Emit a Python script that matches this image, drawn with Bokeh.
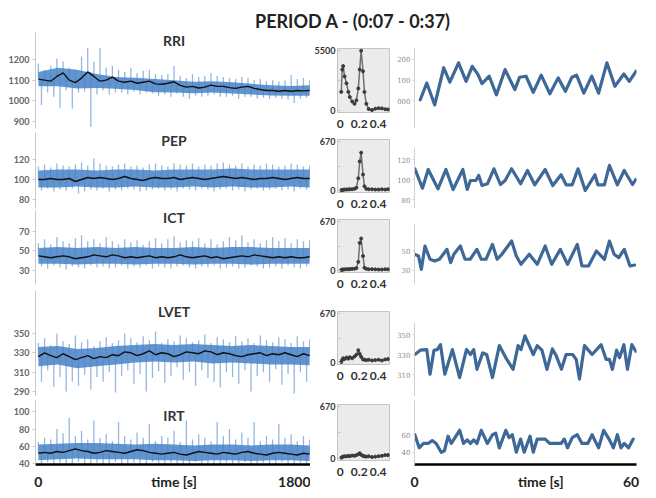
import numpy as np
from bokeh.plotting import figure
from bokeh.layouts import column, row
from bokeh.models import Div, Label, FixedTicker
from bokeh.embed import file_html
from bokeh.resources import INLINE

FONT = "Lato"

# ---------------- data ----------------
# left panels: 45 time bins over the recording (s)
rri_mean = [1105, 1100, 1095, 1118, 1135, 1100, 1088, 1110, 1140, 1118, 1095, 1100, 1115, 1095, 1090,
            1095, 1085, 1090, 1095, 1082, 1080, 1085, 1092, 1075, 1066, 1070, 1062, 1066, 1076, 1070,
            1070, 1064, 1060, 1066, 1070, 1060, 1055, 1050, 1050, 1046, 1050, 1046, 1050, 1048, 1050]
rri_hi = [1180, 1150, 1170, 1205, 1190, 1160, 1150, 1215, 1255, 1190, 1255, 1160, 1170, 1150, 1140,
          1160, 1135, 1145, 1150, 1130, 1125, 1130, 1170, 1120, 1110, 1130, 1115, 1120, 1135, 1120,
          1115, 1110, 1105, 1115, 1110, 1100, 1105, 1095, 1100, 1095, 1100, 1125, 1105, 1110, 1100]
rri_lo = [980, 1040, 1020, 966, 1050, 962, 1040, 1045, 875, 1030, 1050, 1030, 1040, 1040, 1030,
          1045, 1030, 1040, 1035, 1025, 1030, 1020, 1035, 1020, 1010, 1025, 1020, 1025, 1030, 1020,
          1020, 1025, 1010, 1020, 1020, 1010, 1015, 1010, 1015, 1010, 1005, 990, 1010, 1015, 1010]
rri_core_hi = [1140, 1160, 1150, 1130, 1115, 1112, 1105, 1100, 1092, 1095, 1090, 1082, 1075, 1072, 1075]
rri_core_lo = [1070, 1070, 1060, 1062, 1058, 1052, 1042, 1040, 1036, 1040, 1035, 1030, 1026, 1025, 1025]

pep_mean = [100, 100, 101, 100, 100, 101, 98, 100, 102, 101, 102, 101, 100, 101, 103,
            101, 100, 99, 101, 102, 101, 101, 102, 100, 101, 102, 101, 100, 101, 102,
            103, 102, 101, 102, 101, 100, 101, 101, 102, 101, 100, 101, 102, 101, 101]
pep_hi = [113, 115, 112, 116, 114, 113, 115, 117, 114, 121, 116, 114, 113, 115, 116,
          113, 114, 112, 115, 116, 114, 113, 116, 115, 114, 116, 113, 115, 114, 116,
          117, 115, 114, 116, 113, 115, 114, 116, 115, 113, 114, 116, 115, 113, 114]
pep_lo = [89, 91, 88, 90, 89, 91, 86, 88, 90, 89, 91, 88, 90, 89, 91,
          90, 88, 89, 90, 91, 89, 90, 88, 91, 90, 89, 91, 90, 88, 90,
          91, 89, 90, 88, 90, 91, 89, 90, 91, 89, 90, 88, 91, 90, 89]
pep_core_hi = [109, 110, 110, 109, 110, 110, 109, 110, 110, 110, 111, 110, 110, 110, 110]
pep_core_lo = [92, 92, 93, 92, 92, 93, 92, 92, 93, 92, 93, 92, 92, 93, 92]

ict_mean = [45, 44, 43, 44, 45, 44, 42, 43, 44, 46, 45, 44, 46, 45, 43,
            44, 43, 44, 45, 43, 44, 43, 44, 46, 44, 43, 44, 45, 43, 44,
            42, 43, 44, 45, 44, 46, 45, 44, 43, 44, 43, 44, 43, 43, 44]
ict_hi = [58, 62, 57, 64, 60, 58, 63, 66, 60, 62, 58, 64, 60, 57, 62,
          59, 61, 56, 60, 63, 58, 62, 65, 59, 61, 60, 63, 58, 62, 57,
          60, 64, 61, 66, 59, 62, 58, 61, 64, 60, 63, 58, 62, 60, 61]
ict_lo = [34, 32, 35, 33, 31, 34, 33, 32, 35, 33, 34, 32, 33, 35, 32,
          34, 33, 35, 32, 34, 33, 32, 34, 35, 33, 32, 34, 33, 35, 32,
          33, 34, 32, 33, 35, 34, 32, 33, 34, 32, 35, 33, 32, 34, 33]
ict_core_hi = [53, 54, 53, 54, 53, 54, 53, 53, 54, 53, 54, 54, 53, 53, 53]
ict_core_lo = [37, 37, 36, 37, 37, 36, 37, 37, 36, 37, 37, 36, 37, 37, 37]

lvet_mean = [326, 330, 327, 325, 329, 326, 323, 325, 327, 324, 326, 325, 328, 327, 331,
             330, 327, 329, 332, 328, 330, 329, 326, 328, 331, 330, 329, 332, 331, 328,
             330, 329, 327, 326, 328, 329, 330, 327, 329, 328, 330, 328, 326, 329, 327]
lvet_hi = [340, 345, 338, 350, 342, 339, 348, 341, 344, 337, 342, 346, 340, 343, 350,
           345, 341, 347, 343, 352, 340, 344, 342, 348, 345, 341, 343, 349, 340, 346,
           344, 341, 347, 342, 345, 340, 348, 343, 341, 346, 344, 340, 347, 342, 344]
lvet_lo = [300, 312, 295, 305, 290, 300, 296, 307, 292, 305, 300, 310, 289, 306, 312,
           298, 308, 290, 304, 311, 299, 306, 315, 302, 310, 296, 312, 304, 300, 294,
           310, 305, 298, 312, 290, 306, 310, 300, 313, 297, 308, 288, 310, 300, 295]
lvet_core_hi = [336, 337, 334, 335, 337, 338, 339, 338, 339, 338, 337, 338, 337, 336, 336]
lvet_core_lo = [316, 318, 314, 316, 318, 320, 321, 320, 321, 319, 320, 319, 318, 318, 317]

irt_mean = [52, 53, 52, 54, 53, 55, 57, 55, 54, 52, 53, 55, 54, 53, 52,
            54, 56, 55, 53, 52, 51, 52, 53, 51, 50, 52, 54, 53, 52, 51,
            53, 52, 51, 53, 54, 52, 51, 50, 52, 53, 52, 51, 50, 52, 51]
irt_hi = [65, 70, 68, 80, 75, 93, 72, 78, 68, 90, 70, 74, 66, 88, 72,
          68, 76, 70, 86, 66, 72, 70, 78, 65, 90, 68, 74, 70, 66, 88,
          72, 80, 68, 76, 70, 88, 66, 72, 68, 86, 70, 74, 66, 72, 68]
irt_lo = [40, 42, 38, 41, 40, 39, 42, 36, 40, 41, 39, 40, 42, 38, 40,
          41, 39, 40, 42, 40, 39, 41, 40, 38, 40, 42, 39, 40, 37, 40,
          41, 39, 40, 42, 38, 40, 41, 39, 40, 42, 39, 40, 41, 39, 40]
irt_core_hi = [62, 63, 64, 64, 63, 62, 63, 62, 61, 62, 62, 61, 62, 62, 61]
irt_core_lo = [44, 45, 46, 45, 45, 45, 44, 44, 43, 44, 44, 43, 44, 44, 43]

# spectra (frequency in Hz)
freq = [0.01, 0.02, 0.03, 0.045, 0.065, 0.085, 0.10, 0.125, 0.15, 0.17, 0.19, 0.205,
        0.22, 0.24, 0.255, 0.275, 0.30, 0.335, 0.37, 0.405, 0.44, 0.475, 0.505]
rri_psd = [1700, 3760, 4080, 3130, 2490, 1700, 1230, 820, 600, 920, 2020, 3760,
           5500, 3600, 1700, 600, 120, 20, 150, 200, 180, 100, 80]
pep_psd = [5, 10, 12, 15, 15, 18, 18, 20, 25, 40, 170, 400, 520, 220, 60, 25, 20, 18, 15, 15, 18, 15, 20]
ict_psd = [10, 15, 15, 18, 20, 20, 22, 25, 25, 35, 120, 380, 440, 200, 40, 25, 20, 20, 18, 15, 15, 20, 18]
lvet_psd = [10, 40, 60, 50, 70, 55, 75, 60, 85, 110, 170, 120, 80, 45, 40, 35, 40, 30, 35, 40, 30, 45, 50]
irt_psd = [10, 20, 25, 30, 28, 35, 30, 40, 35, 45, 55, 70, 50, 35, 30, 25, 30, 20, 25, 30, 35, 45, 45]

# right panels: 60 s excerpt
rri_t = [1.6, 3.4, 5.6, 8.1, 9.8, 12.2, 14.3, 16.0, 17.6, 18.7, 20.7, 22.7, 25.1, 27.8, 29.1, 30.9,
         32.9, 35.1, 37.5, 39.8, 41.8, 43.6, 44.9, 46.9, 49.1, 51.0, 53.3, 55.5, 58.0, 59.5, 61.4]
rri_v = [1005, 1086, 980, 1160, 1090, 1184, 1094, 1167, 1127, 1083, 1119, 1029, 1151, 1054, 1114, 1119,
         1041, 1124, 1034, 1111, 1046, 1114, 1124, 1037, 1119, 1037, 1184, 1070, 1130, 1094, 1143]
pep_t = [0.1, 2.2, 3.8, 6.5, 8.7, 10.7, 13.4, 14.6, 15.5, 17.0, 17.8, 18.7, 20.2, 22.0, 23.8, 25.1, 26.9, 29.4,
         31.3, 33.3, 36.2, 38.3, 40.6, 42.0, 43.7, 45.3, 47.3, 50.0, 50.8, 52.6, 54.0, 56.2, 58.1, 60.4, 61.3]
pep_v = [110.7, 91.3, 110, 90.7, 110, 90, 110, 90, 99, 99, 104, 94, 95.7, 110.7, 95, 99, 110.7, 95.7,
         109, 94.7, 110, 94, 104.7, 94.7, 94.7, 110.7, 89, 104.7, 94.7, 94.7, 114, 94.7, 109, 95, 100]
ict_t = [0.0, 1.1, 1.9, 2.9, 4.3, 5.6, 6.9, 9.0, 10.0, 10.9, 12.7, 14.0, 15.4, 17.3, 18.5, 19.8, 21.6, 22.9,
         24.2, 26.9, 28.2, 29.5, 31.8, 34.0, 36.2, 38.0, 40.4, 42.4, 45.1, 46.4, 48.2, 50.4, 52.6, 54.0,
         55.3, 56.6, 58.1, 59.7, 61.0]
ict_v = [46.6, 44.9, 31.2, 55.1, 41.5, 39.8, 41.5, 51.7, 38.1, 46.6, 55.1, 41.5, 41.5, 51.7, 41.5, 41.5,
         56.8, 41.5, 46.6, 60.2, 44.9, 36.3, 46.6, 36.3, 55.1, 36.3, 51.7, 36.3, 56.8, 34.6, 34.6, 50,
         41.5, 60.2, 46.6, 43.2, 51.7, 34.6, 35.6]
lvet_t = [0.1, 1.6, 3.4, 4.3, 5.4, 6.3, 7.2, 8.4, 10.5, 12.5, 14.4, 15.5, 16.4, 17.3, 18.9, 20.0, 21.6,
          23.5, 25.3, 27.3, 28.7, 29.5, 30.6, 32.9, 34.0, 35.3, 36.7, 38.2, 39.3, 40.7, 42.0, 43.8, 44.8,
          45.7, 47.1, 49.2, 51.7, 53.1, 54.0, 54.8, 56.0, 56.8, 58.0, 59.0, 60.2, 61.3]
lvet_v = [330, 334.3, 334.9, 310.3, 334.3, 334.9, 339.8, 310.3, 334.9, 307, 334.9, 330, 334.9, 315.2,
          331.6, 330, 307, 338.9, 326.7, 315.2, 338.9, 334.9, 348.7, 330, 338.9, 334.3, 315.2, 335.6,
          328.4, 315.2, 330, 330, 325.1, 305.4, 338.9, 330, 339.8, 325.1, 325.1, 315.2, 334.3, 326.7,
          339.8, 315.2, 339.8, 333.3]
irt_t = [0.1, 1.3, 2.5, 3.8, 4.9, 6.0, 7.4, 8.3, 9.3, 10.2, 12.5, 13.6, 14.6, 15.5, 16.4, 17.3, 18.5,
         20.2, 21.6, 22.5, 23.5, 25.3, 26.2, 27.1, 28.2, 29.4, 30.4, 32.0, 32.9, 34.0, 36.2, 37.5, 40.6,
         41.5, 42.4, 43.7, 45.1, 46.4, 48.0, 49.2, 51.0, 52.4, 53.9, 55.1, 56.2, 57.2, 58.1, 59.3, 60.6]
irt_v = [60, 45, 50, 50, 53.3, 50, 40, 41.7, 58.3, 50, 65, 50, 54, 50, 54, 50, 65, 50, 60, 61.7, 45,
         65, 56.7, 60, 40, 55, 40, 58.3, 40, 55, 55, 50, 50, 55, 45, 56.7, 60, 50, 50, 60, 45, 65, 55,
         45, 60, 45, 50, 45, 55]

t_left = np.linspace(0, 1870, len(rri_mean))          # bin centres of upward excursions
t_left_dn = t_left + (t_left[1] - t_left[0]) / 2      # downward excursions sit between them
t_core = np.linspace(0, 1870, len(rri_core_hi))

# ---------------- figures ----------------
COMMON = dict(output_backend="svg", toolbar_location=None, title=None)


def style_bottom_axis(p, ticks, overrides):
    p.xaxis.ticker = FixedTicker(ticks=ticks)
    p.xaxis.major_label_overrides = overrides
    p.xaxis.axis_line_color = "black"
    p.xaxis.axis_line_width = 2.5
    p.xaxis.major_tick_line_color = None
    p.xaxis.minor_tick_line_color = None
    p.xaxis.major_label_standoff = 2
    p.xaxis.major_label_text_font = FONT
    p.xaxis.major_label_text_font_size = "14px"
    p.xaxis.major_label_text_font_style = "bold"
    p.xaxis.major_label_text_color = "#222222"


def left_fig(h, mbt, mbb, yr, ticks, mean, hi, lo, chi, clo, title, title_y, bottom=False):
    p = figure(width=310, height=h, x_range=(-20, 1876), y_range=yr,
               x_axis_location="below" if bottom else None,
               min_border_left=35, min_border_right=0, min_border_top=mbt, min_border_bottom=mbb, **COMMON)
    p.outline_line_color = None
    p.grid.visible = False
    p.segment(t_left, mean, t_left, hi, line_color="#94b8e0", line_width=1.3)
    p.segment(t_left_dn, lo, t_left_dn, mean, line_color="#94b8e0", line_width=1.3)
    p.varea(x=t_core, y1=clo, y2=chi, fill_color="#4683c8", fill_alpha=0.85)
    p.line(t_left, mean, line_color="#111111", line_width=1.4)
    p.add_layout(Label(x=935, y=title_y, text=title, text_align="center", text_baseline="middle",
                       text_font=FONT, text_font_style="bold", text_font_size="14px", text_color="#333333"))
    ya = p.yaxis[0]
    ya.ticker = FixedTicker(ticks=ticks)
    ya.axis_line_color = "#c8c8c8"
    ya.major_tick_line_color = "#c8c8c8"
    ya.major_tick_out = 3
    ya.major_tick_in = 0
    ya.minor_tick_line_color = None
    ya.major_label_standoff = 3
    ya.major_label_text_font = FONT
    ya.major_label_text_font_size = "9px"
    ya.major_label_text_font_style = "bold"
    ya.major_label_text_color = "#666666"
    if bottom:
        style_bottom_axis(p, [0, 935, 1800], {935: "time [s]"})
    return p


def spec_fig(h, mbt, mbb, ymax, yr, psd):
    p = figure(width=84, height=h, x_range=(-0.03, 0.52), y_range=yr,
               min_border_left=27, min_border_right=5, min_border_top=mbt, min_border_bottom=mbb, **COMMON)
    p.grid.visible = False
    p.background_fill_color = "#ebebeb"
    p.outline_line_color = "#c4c4c4"
    p.line(freq, psd, line_color="#6f6f6f", line_width=1.5)
    p.scatter(freq, psd, size=3, color="#3a3a3a")
    ya = p.yaxis[0]
    mid = ymax // 2
    ya.ticker = FixedTicker(ticks=[0, mid, ymax])
    ya.major_label_overrides = {mid: ""}
    ya.axis_line_color = None
    ya.major_tick_line_color = "#c4c4c4"
    ya.major_tick_out = 0
    ya.major_tick_in = 3
    ya.minor_tick_line_color = None
    ya.major_label_standoff = 2
    ya.major_label_text_font = FONT
    ya.major_label_text_font_size = "9px"
    ya.major_label_text_font_style = "bold"
    ya.major_label_text_color = "#333333"
    xa = p.xaxis[0]
    xa.ticker = FixedTicker(ticks=[0, 0.2, 0.4])
    xa.axis_line_color = None
    xa.major_tick_line_color = None
    xa.minor_tick_line_color = None
    xa.major_label_standoff = 1
    xa.major_label_text_font = FONT
    xa.major_label_text_font_size = "12px"
    xa.major_label_text_font_style = "bold"
    xa.major_label_text_color = "#333333"
    return p


def right_fig(h, mbt, mbb, yr, ticks, t, v, overrides=None, bottom=False):
    p = figure(width=246, height=h, x_range=(0, 61.5), y_range=yr,
               x_axis_location="below" if bottom else None,
               min_border_left=18, min_border_right=4, min_border_top=mbt, min_border_bottom=mbb, **COMMON)
    p.outline_line_color = None
    p.grid.visible = False
    p.line(t, v, line_color="#3d6898", line_width=3.2, line_join="round", line_cap="round")
    ya = p.yaxis[0]
    ya.ticker = FixedTicker(ticks=ticks)
    if overrides:
        ya.major_label_overrides = overrides
    ya.axis_line_color = "#d0d0d0"
    ya.major_tick_line_color = "#d0d0d0"
    ya.major_tick_out = 2
    ya.major_tick_in = 0
    ya.minor_tick_line_color = None
    ya.major_label_standoff = 2
    ya.major_label_text_font = "DejaVu Serif"
    ya.major_label_text_font_size = "7px"
    ya.major_label_text_color = "#8a8a8a"
    if bottom:
        style_bottom_axis(p, [0, 35, 60], {35: "time [s]"})
    return p


title = Div(text='<div style="font-family:Lato;font-weight:bold;font-size:18px;color:#222;'
                 'padding-left:250px;padding-top:6px;white-space:nowrap;line-height:20px">'
                 'PERIOD A - (0:07 - 0:37)</div>', width=640, height=22)

col_left = column(
    left_fig(100, 0, 4, (866, 1330.6), [900, 1000, 1100, 1200], rri_mean, rri_hi, rri_lo,
             rri_core_hi, rri_core_lo, "RRI", 1292),
    left_fig(78, 0, 2, (71, 147), [80, 100, 120], pep_mean, pep_hi, pep_lo,
             pep_core_hi, pep_core_lo, "PEP", 139),
    left_fig(80, 0, 6, (15.6, 91.5), [30, 50, 70], ict_mean, ict_hi, ict_lo,
             ict_core_hi, ict_core_lo, "ICT", 84.4),
    left_fig(106, 0, 0, (284.8, 394.4), [290, 310, 330, 350], lvet_mean, lvet_hi, lvet_lo,
             lvet_core_hi, lvet_core_lo, "LVET", 372.7),
    left_fig(96, 4, 19, (39, 113), [40, 60, 80, 100], irt_mean, irt_hi, irt_lo,
             irt_core_hi, irt_core_lo, "IRT", 96, bottom=True),
    spacing=0)

col_spec = column(
    spec_fig(100, 16, 20, 5500, (-200, 5700), rri_psd),
    spec_fig(78, 7, 16, 670, (-25, 700), pep_psd),
    spec_fig(80, 9, 16, 670, (-25, 700), ict_psd),
    spec_fig(106, 21, 32, 670, (-25, 700), lvet_psd),
    spec_fig(96, 8, 32, 670, (-25, 700), irt_psd),
    spacing=0)

col_right = column(
    right_fig(100, 15, 4, (866, 1258), [1000, 1100, 1200], rri_t, rri_v,
              {1000: "000", 1100: "100", 1200: "200"}),
    right_fig(78, 15, 2, (71, 132), [80, 100, 120], pep_t, pep_v),
    right_fig(80, 14, 6, (15.6, 77.2), [30, 50], ict_t, ict_v),
    right_fig(106, 32, 0, (288, 362), [310, 330, 350], lvet_t, lvet_v),
    right_fig(96, 4, 19, (26, 99), [40, 60], irt_t, irt_v, bottom=True),
    spacing=0)

layout = column(title, row(col_left, col_spec, col_right, spacing=0), spacing=0)

open("out.html", "w").write(file_html(layout, INLINE))
